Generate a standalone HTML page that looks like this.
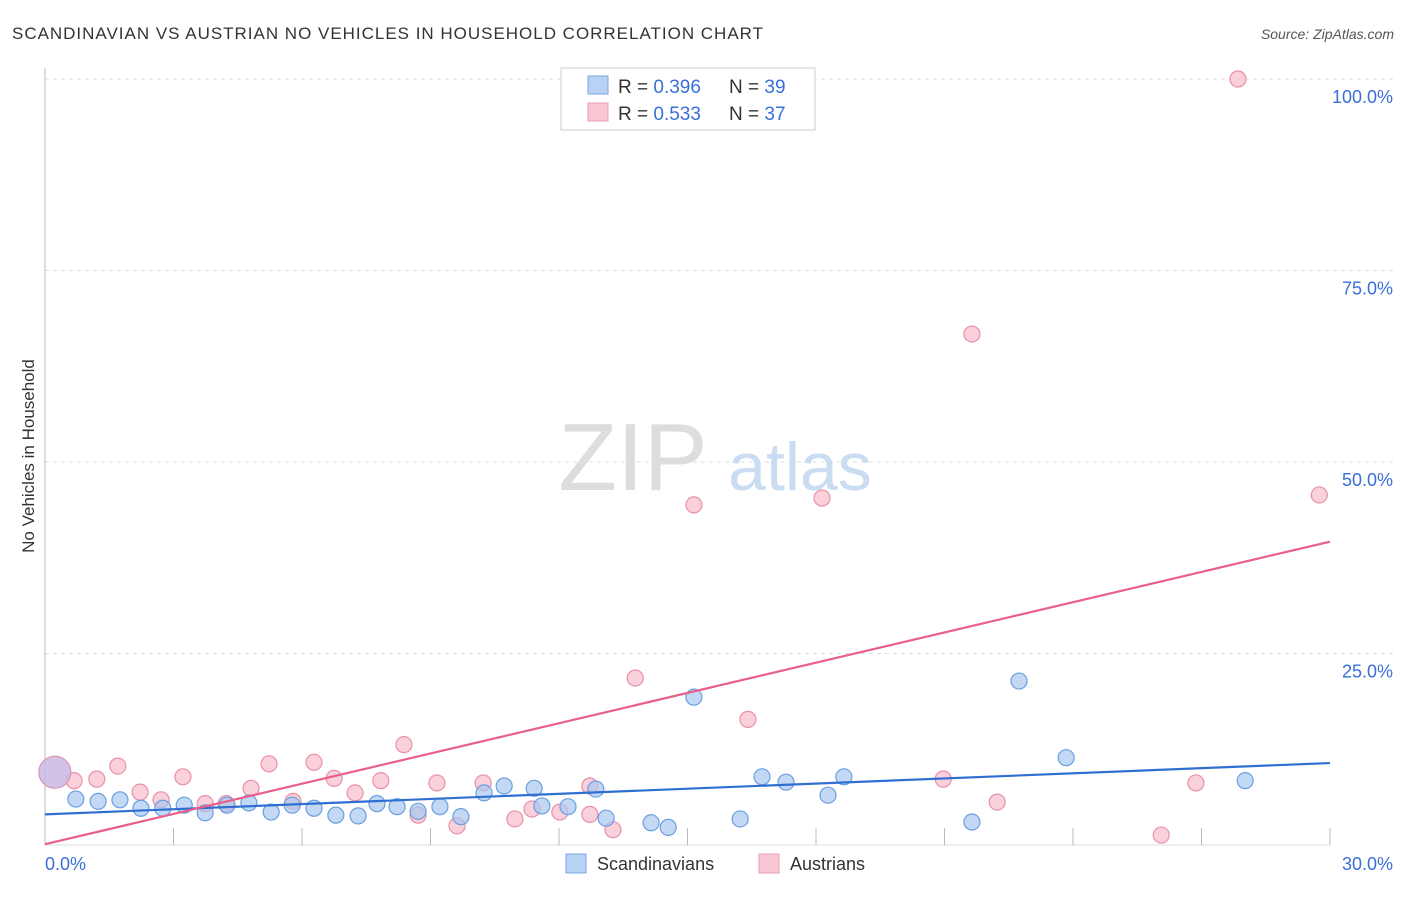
<!DOCTYPE html>
<html><head><meta charset="utf-8"><style>
body{margin:0;background:#fff;font-family:"Liberation Sans",sans-serif;}
svg text{font-family:"Liberation Sans",sans-serif;}
</style></head><body>
<svg id="chart" width="1406" height="892" xmlns="http://www.w3.org/2000/svg">
<text x="12" y="39" font-size="17" fill="#333" textLength="751" lengthAdjust="spacing">SCANDINAVIAN VS AUSTRIAN NO VEHICLES IN HOUSEHOLD CORRELATION CHART</text>
<text x="1394" y="39" font-size="14" fill="#555" font-style="italic" text-anchor="end">Source: ZipAtlas.com</text>
<g id="grid"></g>
<text x="633" y="490" font-size="96" fill="#ddd" font-family="Liberation Serif" text-anchor="middle">ZIP</text>
<text x="800" y="490" font-size="68" fill="#c9dcf2" text-anchor="middle">atlas</text>
<text transform="translate(34,456) rotate(-90)" font-size="17" fill="#333" text-anchor="middle">No Vehicles in Household</text>
<g id="marks"></g>
<g>
<rect x="561" y="68" width="254" height="62" fill="#fff" stroke="#ccc"/>
<rect x="588" y="76" width="20" height="18" fill="#b8d2f4" stroke="#7aa6e2"/>
<rect x="588" y="103" width="20" height="18" fill="#f9c6d4" stroke="#eba0b8"/>
<text x="618" y="93" font-size="19" fill="#333">R = <tspan fill="#3a6fd8">0.396</tspan></text>
<text x="729" y="93" font-size="19" fill="#333">N = <tspan fill="#3a6fd8">39</tspan></text>
<text x="618" y="120" font-size="19" fill="#333">R = <tspan fill="#3a6fd8">0.533</tspan></text>
<text x="729" y="120" font-size="19" fill="#333">N = <tspan fill="#3a6fd8">37</tspan></text>
</g>
<g>
<rect x="566" y="854" width="20" height="19" fill="#b8d2f4" stroke="#7aa6e2"/>
<text x="597" y="870" font-size="18" fill="#333">Scandinavians</text>
<rect x="759" y="854" width="20" height="19" fill="#f9c6d4" stroke="#eba0b8"/>
<text x="790" y="870" font-size="18" fill="#333">Austrians</text>
</g>
</svg>
<script>
const yTicks=[25,50,75,100];
const xTickLabels=["0.0%","30.0%"];
const blueX=[0.23,0.72,1.24,1.75,2.24,2.75,3.25,3.74,4.25,4.76,5.28,5.77,6.28,6.79,7.31,7.75,8.22,8.71,9.22,9.71,10.25,10.72,11.42,11.60,12.21,12.86,13.10,14.15,14.55,15.15,16.23,16.74,17.30,18.28,18.65,21.64,22.74,23.84,28.02];
const blueY=[9.5,6.0,5.7,5.9,4.8,4.8,5.2,4.2,5.2,5.5,4.3,5.2,4.8,3.9,3.8,5.4,5.0,4.4,5.0,3.7,6.8,7.7,7.4,5.1,5.0,7.3,3.5,2.9,2.3,19.3,3.4,8.9,8.2,6.5,8.9,3.0,21.4,11.4,8.4];
const pinkX=[0.68,1.21,1.70,2.22,2.71,3.22,3.74,4.23,4.81,5.23,5.79,6.28,6.75,7.24,7.84,8.38,8.71,9.15,9.62,10.23,10.97,11.37,12.02,12.72,12.72,13.26,13.78,15.15,16.41,18.14,20.97,21.64,22.23,26.06,26.87,27.85,29.75];
const pinkY=[8.4,8.6,10.3,6.9,5.9,8.9,5.4,5.4,7.4,10.6,5.7,10.8,8.7,6.8,8.4,13.1,3.9,8.1,2.5,8.1,3.4,4.7,4.3,7.7,4.0,2.0,21.8,44.4,16.4,45.3,8.6,66.7,5.6,1.3,8.1,100,45.7];
const blueTrend=[4.0,10.7];
const pinkTrend=[0.1,39.6];
const NS='http://www.w3.org/2000/svg';
const sx=v=>45+v*(1285/30), sy=v=>845-v*7.66;
function mk(tag,attrs,parent){const e=document.createElementNS(NS,tag);for(const k in attrs)e.setAttribute(k,attrs[k]);parent.appendChild(e);return e;}
const grid=document.getElementById('grid'), marks=document.getElementById('marks');
yTicks.forEach(t=>{
 const l=mk('line',{x1:45,x2:1393,y1:sy(t),y2:sy(t),stroke:'#ddd','stroke-dasharray':'4,4'},grid);
 
 
 const tx=mk('text',{x:1393,y:sy(t)+24,'font-size':18,fill:'#3a6fd8','text-anchor':'end'},grid);
 tx.textContent=t.toFixed(1)+'%';
 
 
});
const ax=mk('line',{x1:45,x2:45,y1:68,y2:845,stroke:'#bbb'},grid);


const bx=mk('line',{x1:45,x2:1330,y1:845,y2:845,stroke:'#ddd'},grid);


for(let i=0;i<=10;i++){
 const t=mk('line',{x1:sx(i*3),x2:sx(i*3),y1:828,y2:845,stroke:'#bbb'},grid);
 
 
}
const xl0=mk('text',{x:45,y:870,'font-size':18,fill:'#3a6fd8'},grid);xl0.textContent=xTickLabels[0];


const xl1=mk('text',{x:1393,y:870,'font-size':18,fill:'#3a6fd8','text-anchor':'end'},grid);xl1.textContent=xTickLabels[1];


function pts(X,Y,fill,stroke,name){
 X.forEach((x,i)=>{
  const big=(name==='scandinavian-point'&&i===0);
  const c=mk('circle',{cx:sx(x),cy:sy(Y[i]),r:big?16:8,fill:big?'#c8b8e0':fill,'fill-opacity':big?0.85:0.7,stroke:big?'#d898b8':stroke,'stroke-width':1.2},marks);
  
  
 });
}
pts(pinkX,pinkY,'#f8bccb','#e890aa','austrian-point');
pts(blueX,blueY,'#a9c8f0','#6a9fe0','scandinavian-point');
const bl=mk('line',{x1:sx(0),y1:sy(blueTrend[0]),x2:sx(30),y2:sy(blueTrend[1]),stroke:'#2e6fd1','stroke-width':2.2},marks);


const pl=mk('line',{x1:sx(0),y1:sy(pinkTrend[0]),x2:sx(30),y2:sy(pinkTrend[1]),stroke:'#e8608a','stroke-width':2.2},marks);


</script>
</body></html>
